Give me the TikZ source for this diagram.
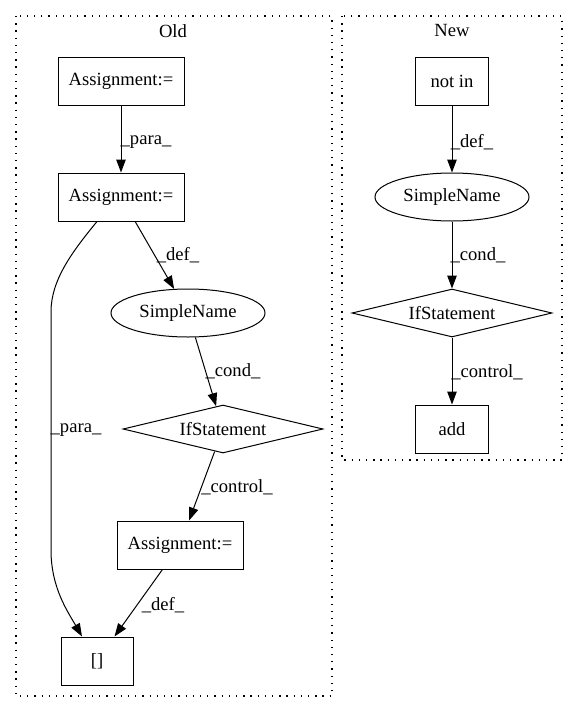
\documentclass[tikz,border=0pt]{standalone}
\usepackage{fontspec}
\setmainfont{Liberation Serif}
\usetikzlibrary{shapes.geometric,arrows.meta}
\begin{document}
\begin{tikzpicture}[x=1pt,y=-1pt,
  every node/.style={font=\fontsize{18.6}{22}\selectfont, inner sep=0pt},
  boxnode/.style={draw, line width=1pt, rectangle, minimum height=48pt},
  ellnode/.style={draw, line width=1pt, ellipse, minimum width=154pt, minimum height=48pt},
  dianode/.style={draw, line width=1pt, diamond, aspect=4.2, minimum width=200pt, minimum height=48pt},
  edge/.style={line width=1pt, -{Triangle[length=13pt,width=9.5pt]}},
  cluster/.style={line width=1.2pt, dash pattern=on 1.3pt off 5.9pt},
  elabel/.style={anchor=center}
]
\useasboundingbox (0,0) rectangle (577,712);
% clusters
\draw[cluster] (16,16) rectangle (332,696);
\draw[cluster] (342,16) rectangle (562,460);
\node (oldlbl) at (173,31) {Old};
\node (newlbl) at (452,31) {New};
% Old nodes
\node[boxnode, minimum width=126pt] (a1) at (121,81) {Assignment:=};
\node[boxnode, minimum width=126pt] (a2) at (121,197) {Assignment:=};
\node[ellnode] (sn1) at (188,313) {SimpleName};
\node[dianode] (if1) at (223,429) {IfStatement};
\node[boxnode, minimum width=126pt] (a3) at (180,545) {Assignment:=};
\node[boxnode, minimum width=72pt] (br) at (97,661) {[]};
% New nodes
\node[boxnode, minimum width=73pt] (ni) at (452,81) {not in};
\node[ellnode] (sn2) at (452,197) {SimpleName};
\node[dianode] (if2) at (452,313) {IfStatement};
\node[boxnode, minimum width=73pt] (add) at (452,429) {add};
% Old edges
\draw[edge] (a1) -- (a2);
\node[elabel] (l1) at (146,142) {\_para\_};
\draw[edge] (a2) -- (sn1);
\node[elabel] (l2) at (178,255) {\_def\_};
\draw[edge] ([xshift=-24pt]a2.south) .. controls (72,252) and (51,280) .. (51,312) -- (51,550) .. controls (51,588) and (68,612) .. ([xshift=-15pt]br.north);
\node[elabel] (l3) at (76,430) {\_para\_};
\draw[edge] (sn1) -- (if1);
\node[elabel] (l4) at (233,371) {\_cond\_};
\draw[edge] (if1) -- (a3);
\node[elabel] (l5) at (237,487) {\_control\_};
\draw[edge] (a3) -- (br);
\node[elabel] (l6) at (163,605) {\_def\_};
% New edges
\draw[edge] (ni) -- (sn2);
\node[elabel] (l7) at (472,142) {\_def\_};
\draw[edge] (sn2) -- (if2);
\node[elabel] (l8) at (478,255) {\_cond\_};
\draw[edge] (if2) -- (add);
\node[elabel] (l9) at (487,372) {\_control\_};
\end{tikzpicture}
\end{document}
